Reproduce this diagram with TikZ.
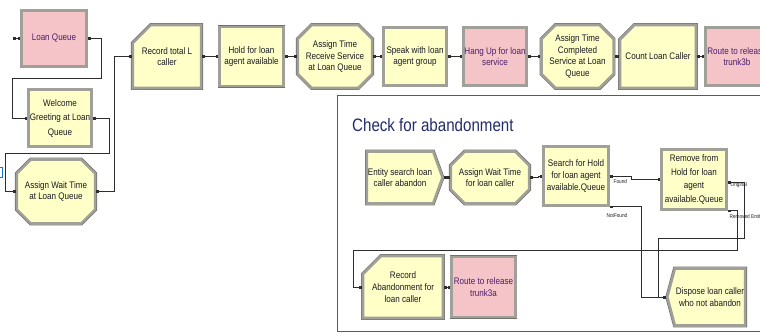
\documentclass[tikz,border=0pt]{standalone}
\usepackage{fontspec}
\setmainfont{Liberation Sans}
\newfontfamily\modfont[FakeStretch=0.85]{Liberation Sans}
\newfontfamily\ttlfont[FakeStretch=0.84]{Liberation Sans}
\usetikzlibrary{shapes.misc,shapes.symbols,arrows.meta}
\definecolor{modyellow}{RGB}{255,255,200}
\definecolor{modpink}{RGB}{244,196,200}
\definecolor{modborder}{RGB}{160,160,152}
\definecolor{modedge}{RGB}{112,112,106}
\definecolor{pinktext}{RGB}{75,30,110}
\definecolor{ytext}{RGB}{25,25,35}
\definecolor{subblue}{RGB}{80,80,165}
\definecolor{ttlblue}{RGB}{35,45,105}
\definecolor{linegray}{RGB}{45,45,45}
\begin{document}
\begin{tikzpicture}[x=1pt,y=-1pt,
 mod/.style={draw=modborder, line width=2.6pt, preaction={draw=modedge, line width=3.8pt},
   inner sep=1pt, align=center, font=\modfont\fontsize{9.5}{11.8}\selectfont},
 ymod/.style={mod, fill=modyellow, text=ytext},
 pmod/.style={mod, fill=modpink, text=pinktext},
 octa/.style={chamfered rectangle, chamfered rectangle xsep=7pt, chamfered rectangle ysep=7pt},
 cutc/.style={chamfered rectangle, chamfered rectangle corners=north west,
   chamfered rectangle xsep=8pt, chamfered rectangle ysep=10pt},
 sigE/.style={signal, signal to=east, signal pointer angle=140},
 sigW/.style={signal, signal to=west, signal pointer angle=150},
 conn/.style={draw=linegray, line width=0.8pt,
   arrows={Square[length=2.6pt,width=2.6pt]-Square[length=2.6pt,width=2.6pt]}},
 lbl/.style={font=\modfont\fontsize{5.5}{6}\selectfont, text=ytext, inner sep=0.5pt}
]
\useasboundingbox (0,0) rectangle (760,333);
\clip (0,0) rectangle (760,333);
\fill[white] (0,0) rectangle (760,333);

% ---- top row ----
\node[pmod, rectangle, minimum width=65pt, minimum height=56pt] (LQ) at (54,38.5) {Loan Queue};
\node[ymod, rectangle, minimum width=63pt, minimum height=57pt, font=\modfont\fontsize{9.5}{14.5}\selectfont] (WG) at (60,118) {Welcome\\Greeting at Loan\\Queue};
\node[ymod, octa, minimum width=69pt, minimum height=64pt] (AW) at (56,191.5) {Assign Wait Time\\at Loan Queue};
\node[ymod, cutc, minimum width=67pt, minimum height=63pt] (RT) at (167,56.5) {Record total L\\caller};
\node[ymod, rectangle, minimum width=64pt, minimum height=59pt] (HL) at (251.5,56.5) {Hold for loan\\agent available};
\node[ymod, octa, minimum width=67pt, minimum height=63pt] (AR) at (335,56.5) {Assign Time\\Receive Service\\at Loan Queue};
\node[ymod, rectangle, minimum width=63pt, minimum height=58pt] (SP) at (415,56.5) {Speak with loan\\agent group};
\node[pmod, rectangle, minimum width=63pt, minimum height=58pt] (HU) at (495,56.5) {Hang Up for loan\\service};
\node[ymod, octa, minimum width=68pt, minimum height=63pt] (AC) at (577.5,56.5) {Assign Time\\Completed\\Service at Loan\\Queue};
\node[ymod, cutc, minimum width=67pt, minimum height=63pt] (CL) at (658,56.5) {Count Loan Caller};
\node[pmod, rectangle, minimum width=63pt, minimum height=58pt] (RB) at (737,56.5) {Route to release\\trunk3b};

\coordinate (lqin) at (13,38.5);
\draw[conn] (lqin) -- (LQ.west);
\draw[conn] (LQ.east) -- ++(14,0) |- (12,78) |- (WG.west);
\draw[conn] (WG.east) -- ++(17,0) |- (5,153) |- (AW.west);
\draw[conn] (AW.east) -- ++(18,0) |- (RT.west);
\draw[conn] (RT.east) -- (HL.west);
\draw[conn] (HL.east) -- (AR.west);
\draw[conn] (AR.east) -- (SP.west);
\draw[conn] (SP.east) -- (HU.west);
\draw[conn] (HU.east) -- (AC.west);
\draw[conn] (AC.east) -- (CL.west);
\draw[conn] (CL.east) -- (RB.west);

% cut-off object at left edge
\draw[draw=cyan!60!blue, line width=0.6pt] (-4,167) rectangle (2.5,177);

% ---- submodel ----
\draw[draw=subblue, line width=1pt, fill=white] (337,95) rectangle (770,331);
\node[anchor=west, text=ttlblue, inner sep=0pt, font=\ttlfont\fontsize{18}{20}\selectfont] (TTL) at (352,125) {Check for abandonment};

\node[ymod, sigE, minimum width=73pt, minimum height=52pt] (ES) at (400,177.5) {Entity search loan\\caller abandon};
\node[ymod, octa, minimum width=67pt, minimum height=52pt] (AWL) at (490,177.5) {Assign Wait Time\\for loan caller};
\node[ymod, rectangle, minimum width=65pt, minimum height=59pt] (SH) at (576,176) {Search for Hold\\for loan agent\\available.Queue};
\node[ymod, rectangle, minimum width=65pt, minimum height=60pt, font=\modfont\fontsize{9.5}{13.5}\selectfont] (RM) at (694,179.5) {Remove from\\Hold for loan\\agent\\available.Queue};
\node[ymod, cutc, minimum width=67pt, minimum height=62pt] (RA) at (403,287) {Record\\Abandonment for\\loan caller};
\node[pmod, rectangle, minimum width=64pt, minimum height=60pt] (RTa) at (483.5,287) {Route to release\\trunk3a};
\node[ymod, sigW, minimum width=73pt, minimum height=57pt] (DP) at (710,297) {Dispose loan caller\\who not abandon};

\draw[conn] (ES.east) -- (AWL.west);
\draw[conn] (AWL.east) -- ++(8,0) |- (SH.west);
\draw[conn] (SH.east) -- ++(22,0) |- (RM.west);
\draw[conn] (SH.south east) -- ++(32,0) |- (DP.west);
\draw[conn] ([yshift=-3pt]RM.east) -- ++(17,0) |- (658,238) |- (DP.west);
\draw[conn] (RM.south east) -- ++(10,0) |- (353,250) |- (RA.west);
\draw[conn] (RA.east) -- (RTa.west);

\node[lbl, anchor=west] (Lfound) at (613,182) {Found};
\node[lbl] (Lnot) at (617,216) {NotFound};
\node[lbl, anchor=west] (Lorig) at (730,185) {Original};
\node[lbl, anchor=west] (Lrem) at (729,217) {Removed Entity};
\end{tikzpicture}
\end{document}
